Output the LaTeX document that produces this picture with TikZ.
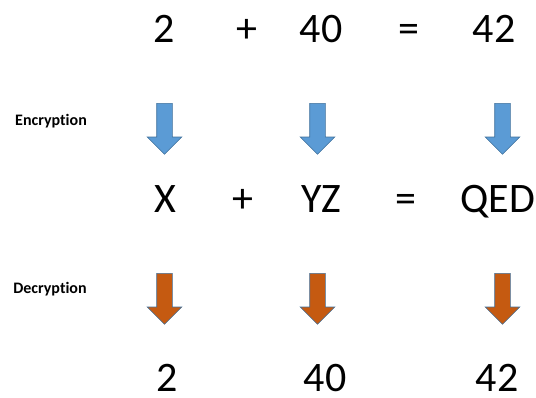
\documentclass[tikz,border=0pt]{standalone}
\usepackage{fontspec}
\setmainfont[Ligatures=NoCommon]{Carlito}
\usepackage{tikz}
\usetikzlibrary{shapes.arrows}
\definecolor{encblue}{RGB}{91,155,213}
\definecolor{decorange}{RGB}{197,90,17}
\definecolor{arredge}{RGB}{65,113,156}

\begin{document}
\begin{tikzpicture}[
    x=1pt, y=-1pt,
    val/.style={anchor=base, inner sep=0pt,
                font=\fontsize{42}{50}\selectfont},
    steplabel/.style={anchor=base, inner sep=0pt,
                      font=\fontsize{16}{19}\selectfont\bfseries},
    blockarr/.style={single arrow, rotate=-90, anchor=tail, draw=arredge,
                     line width=0.6pt, inner sep=7.5pt, minimum height=51pt,
                     single arrow head extend=9.5pt, single arrow tip angle=90},
    encarr/.style={blockarr, fill=encblue},
    decarr/.style={blockarr, fill=decorange},
  ]
  \useasboundingbox (0,0) rectangle (536,397);

  % --- Row 1: plain sum ---
  \node[val] (a1) at (164,42) {2};
  \node[val] (plus1) at (247,42) {+};
  \node[val] (a2) at (321,42) {40};
  \node[val] (eq1) at (409,42) {=};
  \node[val] (a3) at (494,42) {42};

  % --- Row 2: encrypted sum ---
  \node[val] (c1) at (165,212) {X};
  \node[val] (plus2) at (243,212) {+};
  \node[val] (c2) at (321,212) {YZ};
  \node[val] (eq2) at (406,212) {=};
  \node[val] (c3) at (498,212) {QED};

  % --- Row 3: decrypted values ---
  \node[val] (b1) at (167,391) {2};
  \node[val] (b2) at (325,391) {40};
  \node[val] (b3) at (497,391) {42};

  % Step labels
  \node[steplabel] (enclab) at (51,125) {Encryption};
  \node[steplabel] (declab) at (50,293) {Decryption};

  % Block arrows
  \foreach \i/\xpos in {1/164.5, 2/317.5, 3/502.5} {
    \node[encarr] (enc\i) at (\xpos,103) {};
    \node[decarr] (dec\i) at (\xpos,273) {};
  }
\end{tikzpicture}
\end{document}
